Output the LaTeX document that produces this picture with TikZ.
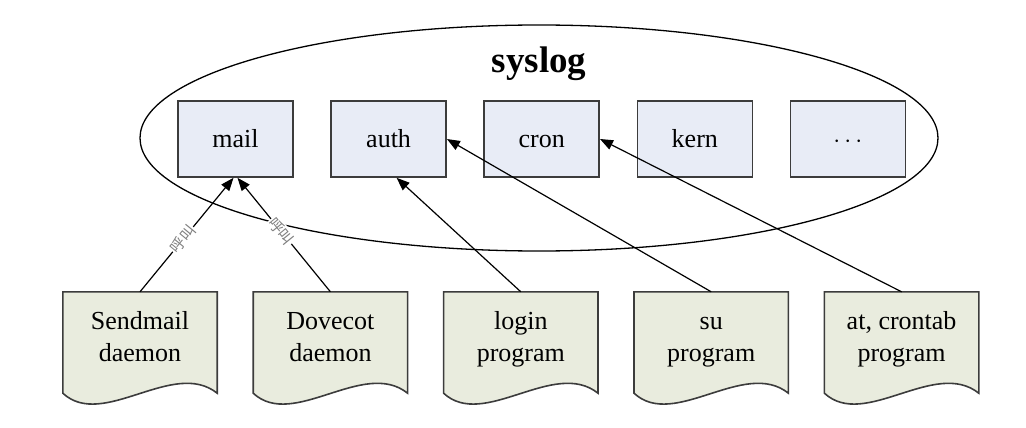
\documentclass[tikz,border=0pt]{standalone}
\usepackage{fontspec}
\setmainfont{Liberation Serif}
\newfontfamily\cjk{Noto Sans CJK SC}
\usetikzlibrary{positioning, shapes.geometric, arrows.meta, backgrounds}
\definecolor{facilityfill}{RGB}{232,236,246}
\definecolor{programfill}{RGB}{233,236,222}
\definecolor{edgegray}{RGB}{60,60,60}
\tikzset{
facility/.style={rectangle, draw=edgegray, line width=1.6pt, fill=facilityfill, minimum width=115pt, minimum height=76pt, text height=18pt, text depth=2pt, font=\fontsize{26}{31}\selectfont}, % boxes inside syslog
program/.style={rectangle, minimum width=154pt, minimum height=101pt, align=center, text height=50pt, text depth=12pt, font=\fontsize{26}{32}\selectfont}, % document shapes
docline/.style={draw=edgegray, line width=1.6pt, fill=programfill},
call/.style={-{Triangle[length=13pt,width=10pt]}, line width=1.2pt}, % arrows to the facilities
calltext/.style={sloped, fill=white, inner sep=1pt, text=gray, font=\cjk\fontsize{15}{15}\selectfont},
node distance=36.5pt,
}
\begin{document}
\begin{tikzpicture}[x=1pt, y=-1pt]
\useasboundingbox (0,0) rectangle (1026,428);

\node[ellipse, draw, line width=1.3pt, minimum width=798pt, minimum height=226pt] (syslogarea) at (539,138) {};
\node[font=\bfseries\fontsize{37}{40}\selectfont] (title) at (539,64) {syslog};

\node[facility] (mail) at (235.5,139) {mail};
\node[facility, right=of mail] (auth) {auth};
\node[facility, right=of auth] (cron) {cron};
\node[facility, right=of cron] (kern) {kern};
\node[facility, right=of kern] (more) {$\cdots$};

\node[program] (sendmail) at (140,342.5) {Sendmail\\daemon};
\node[program, right=36pt of sendmail] (dovecot) {Dovecot\\daemon};
\node[program, right=36pt of dovecot] (login) {login\\program};
\node[program, right=36pt of login] (su) {su\\program};
\node[program, right=36pt of su] (crontab) {at, crontab\\program};

\begin{scope}[on background layer]
\foreach \d in {sendmail,dovecot,login,su,crontab}
  \draw[docline] (\d.north west) -- (\d.north east) -- (\d.south east)
    .. controls +(-44,-35) and +(40,37) .. (\d.south west) -- cycle;
\end{scope}

\draw[call] (sendmail.north) -- node[calltext, pos=0.46] {呼叫} ([xshift=-2pt]mail.south);
\draw[call] (dovecot.north) -- node[calltext, pos=0.53] {呼叫} ([xshift=2pt]mail.south);
\draw[call] (login.north) -- ([xshift=8pt]auth.south);
\draw[call] (su.north) -- (auth.east);
\draw[call] (crontab.north) -- (cron.east);
\end{tikzpicture}
\end{document}
